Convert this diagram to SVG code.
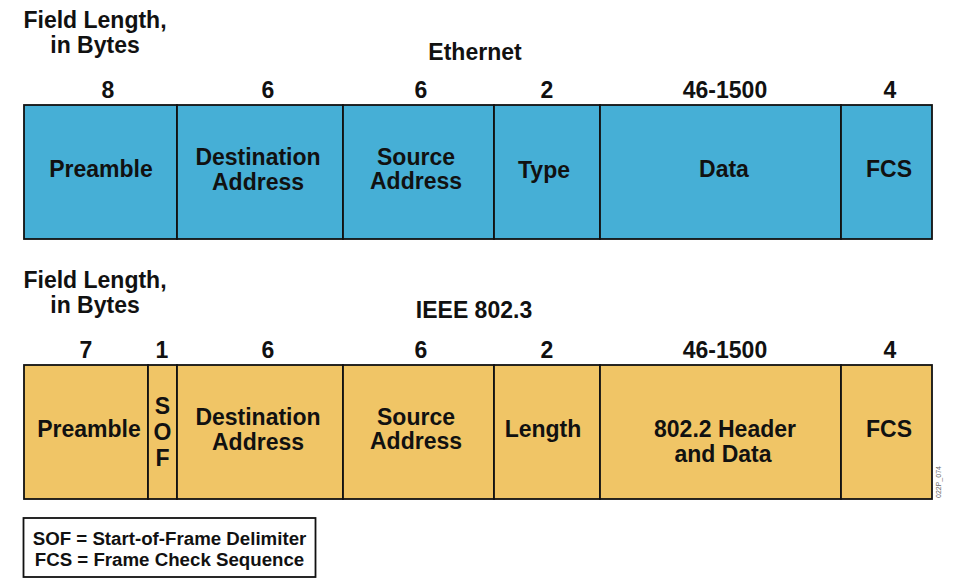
<svg xmlns="http://www.w3.org/2000/svg" width="960" height="582" viewBox="0 0 960 582">
<style>
text{font-family:"Liberation Sans",Arial,sans-serif;font-weight:bold;fill:#111;text-anchor:middle}
.t{font-size:23px}
.n{font-size:23px}
.l{font-size:23px}
.lg{font-size:18.7px}
.v{writing-mode:vertical-rl;text-orientation:upright}
.eth{fill:#46AFD6;stroke:#111;stroke-width:1.8}
.iee{fill:#F0C566;stroke:#111;stroke-width:1.8}
.code{font-family:"Liberation Sans",Arial,sans-serif;font-weight:normal;font-size:7px;fill:#666}
</style>
<rect width="960" height="582" fill="#fff"/>
<!-- Ethernet -->
<g id="eth-header">
<text class="t" x="95" y="28">Field Length,</text>
<text class="t" x="95" y="53">in Bytes</text>
<text class="t" x="475" y="60">Ethernet</text>
<text class="n" x="108" y="98">8</text>
<text class="n" x="268" y="98">6</text>
<text class="n" x="421" y="98">6</text>
<text class="n" x="547" y="98">2</text>
<text class="n" x="725" y="98">46-1500</text>
<text class="n" x="890" y="98">4</text>
</g>
<g id="eth-preamble"><rect class="eth" x="24" y="105" width="153" height="134"/><text class="l" x="101" y="177">Preamble</text></g>
<g id="eth-dest"><rect class="eth" x="177" y="105" width="166" height="134"/><text class="l" x="258" y="165">Destination</text><text class="l" x="258" y="190">Address</text></g>
<g id="eth-src"><rect class="eth" x="343" y="105" width="151" height="134"/><text class="l" x="416" y="165">Source</text><text class="l" x="416" y="189">Address</text></g>
<g id="eth-type"><rect class="eth" x="494" y="105" width="106" height="134"/><text class="l" x="544" y="178">Type</text></g>
<g id="eth-data"><rect class="eth" x="600" y="105" width="241" height="134"/><text class="l" x="724" y="177">Data</text></g>
<g id="eth-fcs"><rect class="eth" x="841" y="105" width="91" height="134"/><text class="l" x="889" y="177">FCS</text></g>
<!-- IEEE 802.3 -->
<g id="ieee-header">
<text class="t" x="95" y="288">Field Length,</text>
<text class="t" x="95" y="313">in Bytes</text>
<text class="t" x="474" y="318">IEEE 802.3</text>
<text class="n" x="86" y="358">7</text>
<text class="n" x="162" y="358">1</text>
<text class="n" x="268" y="358">6</text>
<text class="n" x="421" y="358">6</text>
<text class="n" x="547" y="358">2</text>
<text class="n" x="725" y="358">46-1500</text>
<text class="n" x="890" y="358">4</text>
</g>
<g id="ieee-preamble"><rect class="iee" x="24" y="365" width="124" height="134"/><text class="l" x="89" y="437">Preamble</text></g>
<g id="ieee-sof"><rect class="iee" x="148" y="365" width="29" height="134"/><text class="l v" x="162.5" y="432">SOF</text></g>
<g id="ieee-dest"><rect class="iee" x="177" y="365" width="166" height="134"/><text class="l" x="258" y="425">Destination</text><text class="l" x="258" y="450">Address</text></g>
<g id="ieee-src"><rect class="iee" x="343" y="365" width="151" height="134"/><text class="l" x="416" y="425">Source</text><text class="l" x="416" y="449">Address</text></g>
<g id="ieee-length"><rect class="iee" x="494" y="365" width="106" height="134"/><text class="l" x="543" y="437">Length</text></g>
<g id="ieee-data"><rect class="iee" x="600" y="365" width="241" height="134"/><text class="l" x="725" y="437">802.2 Header</text><text class="l" x="723" y="462">and Data</text></g>
<g id="ieee-fcs"><rect class="iee" x="841" y="365" width="91" height="134"/><text class="l" x="889" y="437">FCS</text></g>
<text class="code" transform="translate(941,498) rotate(-90)" style="text-anchor:start">022P_074</text>
<!-- Legend -->
<g id="legend">
<rect x="23.5" y="518" width="292" height="59" fill="#fff" stroke="#111" stroke-width="1.8"/>
<text class="lg" x="169.5" y="545">SOF = Start-of-Frame Delimiter</text>
<text class="lg" x="169.5" y="566">FCS = Frame Check Sequence</text>
</g>
<g id="connectors"></g>
</svg>
